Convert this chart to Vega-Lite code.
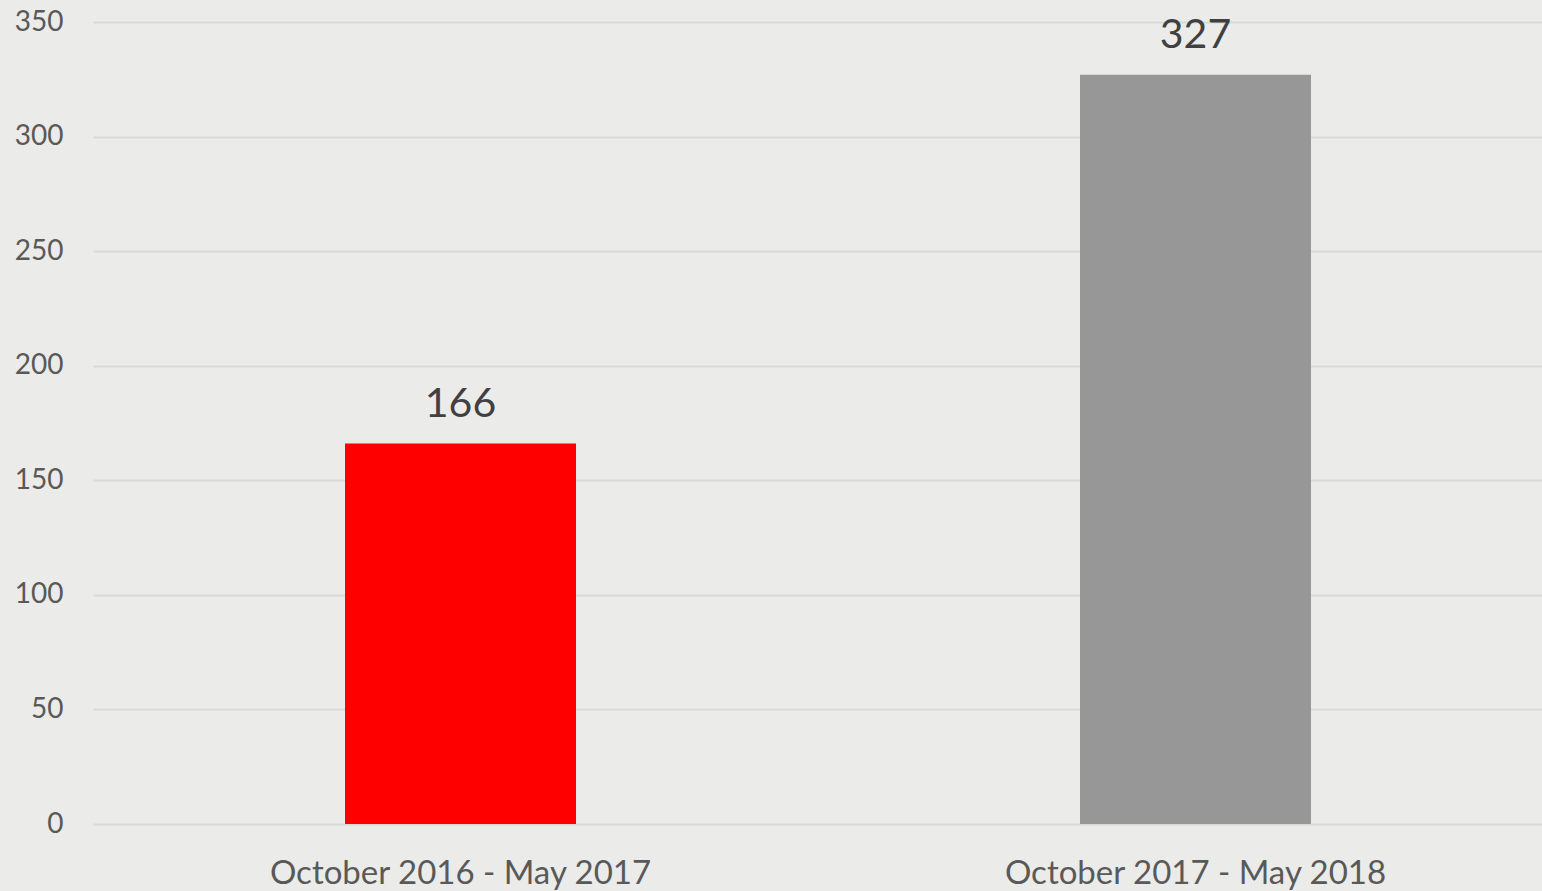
{
  "$schema": "https://vega.github.io/schema/vega-lite/v6.json",
  "width": 1449,
  "height": 802,
  "autosize": "none",
  "padding": {"left": 93, "top": 22, "right": 0, "bottom": 67},
  "background": "#ebebea",
  "config": {
    "view": {"stroke": null},
    "font": "Lato"
  },
  "data": {
    "values": [
      {"period": "October 2016 - May 2017", "count": 166, "color": "#ff0000"},
      {"period": "October 2017 - May 2018", "count": 327, "color": "#979797"}
    ]
  },
  "encoding": {
    "x": {
      "field": "period",
      "type": "nominal",
      "sort": null,
      "scale": {"range": [0, 1470], "paddingInner": 0, "paddingOuter": 0},
      "axis": {
        "title": null,
        "labelAngle": 0,
        "labelFontSize": 33,
        "labelColor": "#595959",
        "labelPadding": 33,
        "labelLimit": 0,
        "ticks": false,
        "domain": false,
        "grid": false
      }
    },
    "y": {
      "field": "count",
      "type": "quantitative",
      "scale": {"domain": [0, 350], "nice": false},
      "axis": {
        "title": null,
        "values": [0, 50, 100, 150, 200, 250, 300, 350],
        "labelFontSize": 28,
        "labelColor": "#595959",
        "labelPadding": 30,
        "ticks": false,
        "domain": false,
        "gridColor": "#d9d9d9",
        "gridWidth": 2
      }
    }
  },
  "layer": [
    {
      "mark": {"type": "bar", "size": 231},
      "encoding": {
        "color": {"field": "color", "type": "nominal", "scale": null}
      }
    },
    {
      "mark": {"type": "text", "baseline": "bottom", "dy": -18, "fontSize": 41, "color": "#404040"},
      "encoding": {
        "text": {"field": "count", "type": "quantitative"}
      }
    }
  ]
}
